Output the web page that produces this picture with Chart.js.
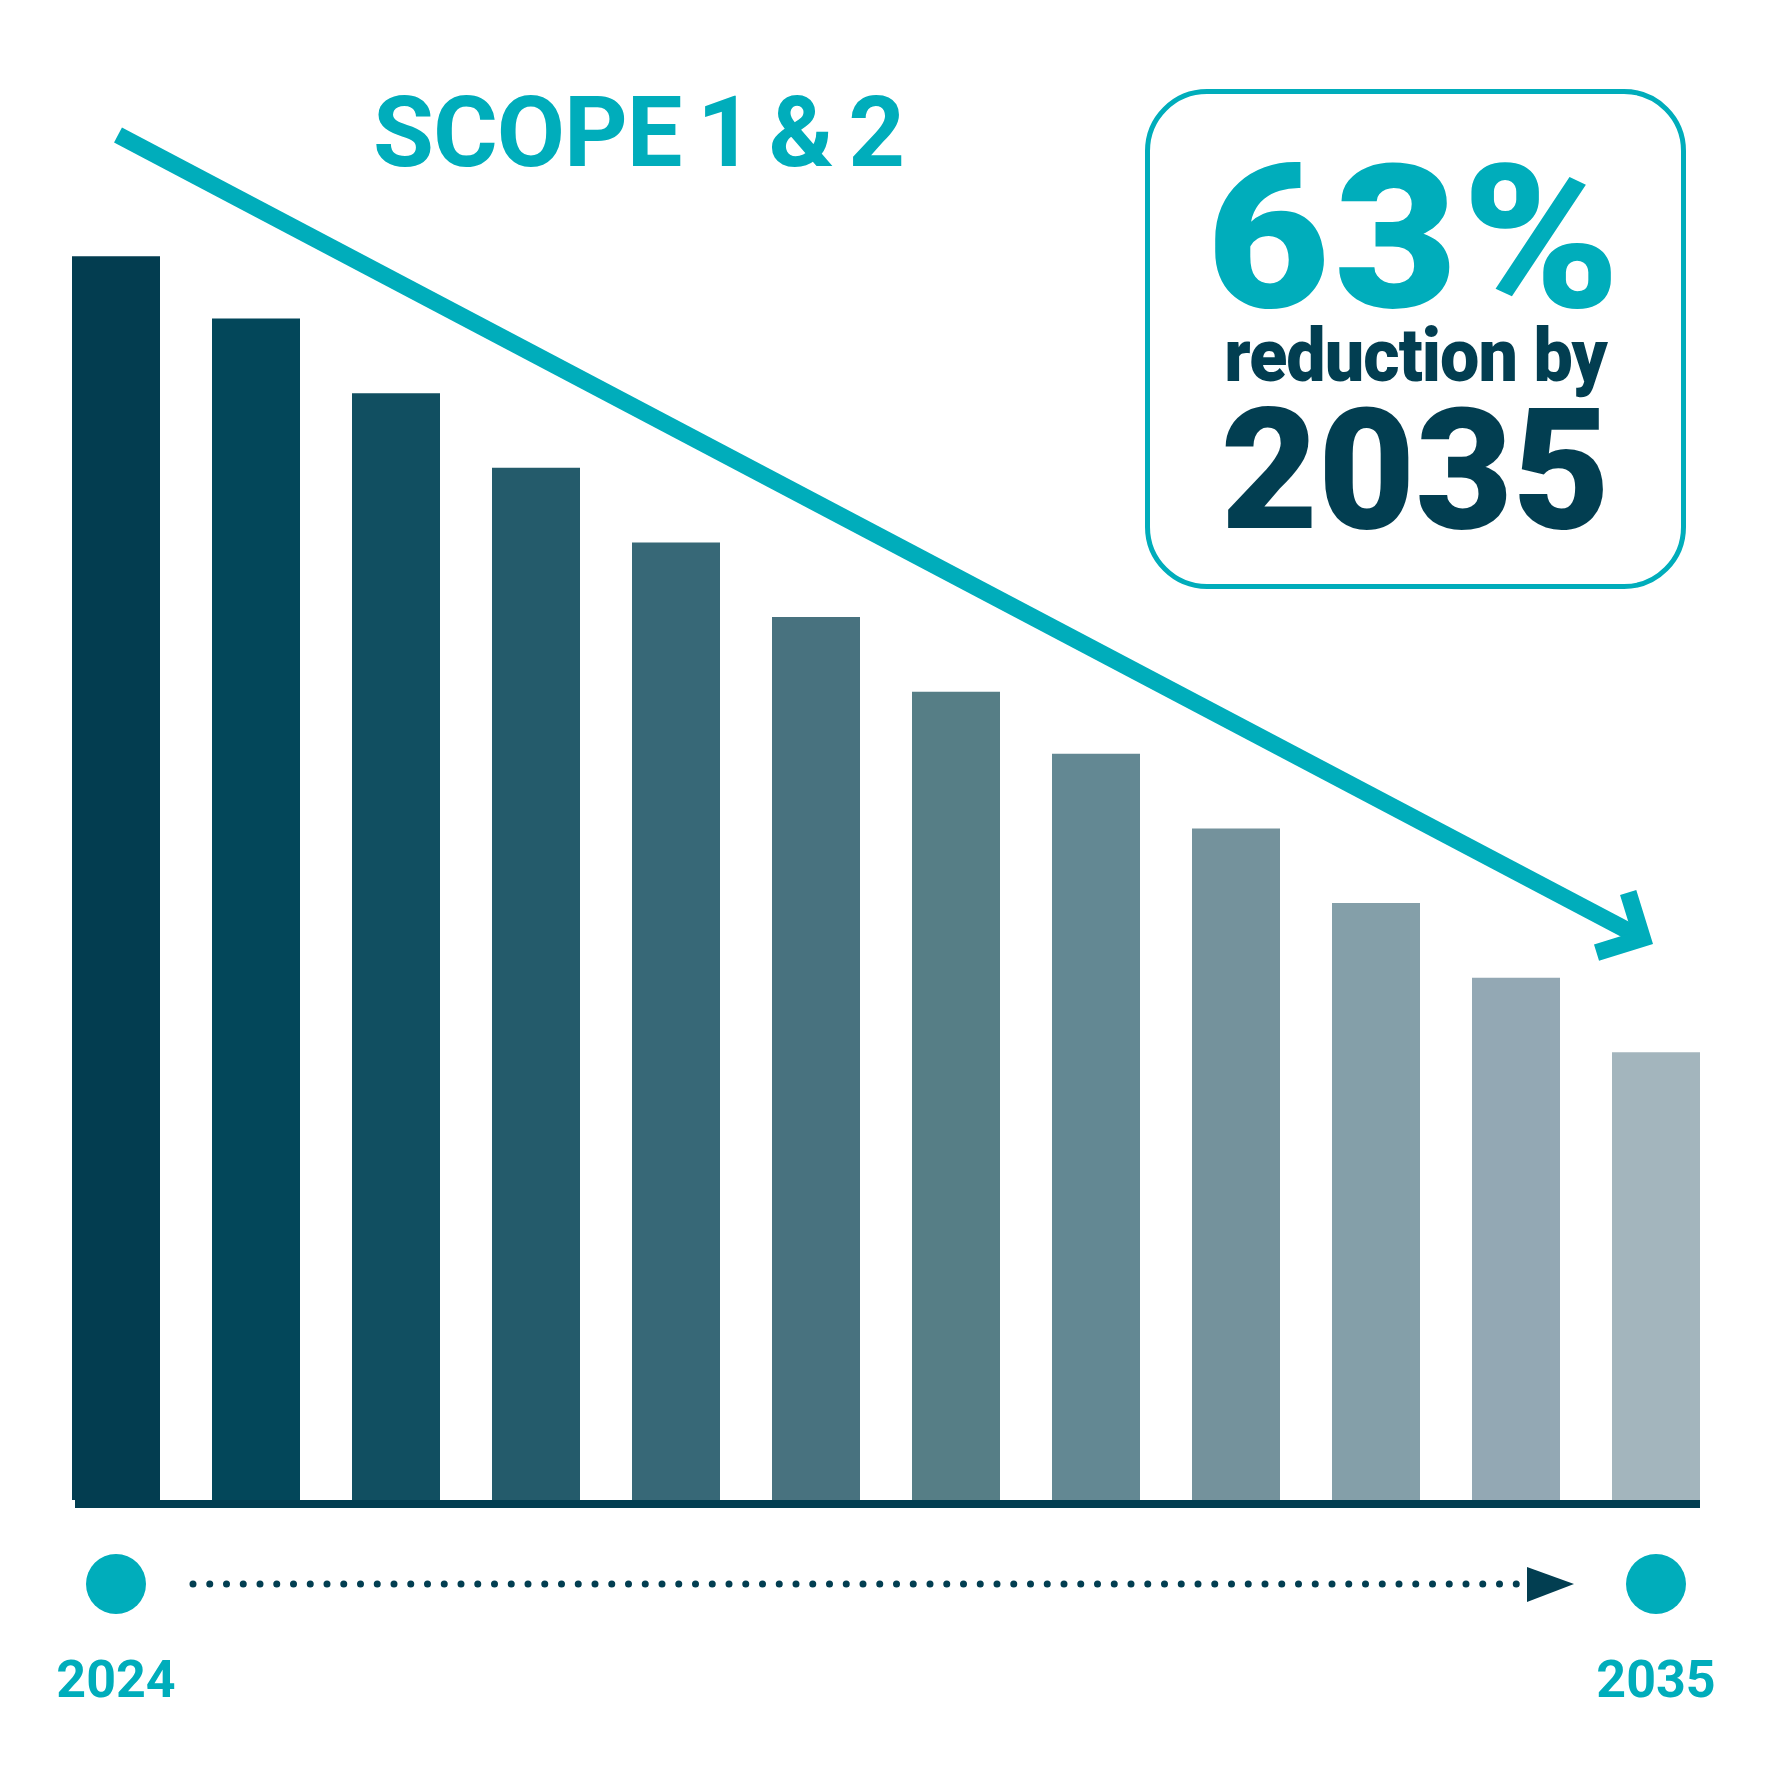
<!DOCTYPE html>
<html>
<head>
<meta charset="utf-8">
<title>Scope 1 & 2</title>
<script src="https://cdn.jsdelivr.net/npm/chart.js@4.4.1/dist/chart.umd.min.js"></script>
<style>
    body { margin: 0; background: #fff; }
    #wrap { position: relative; width: 1772px; height: 1772px; }
    #chart { position: absolute; left: 0; top: 0; }
    .txt { position: absolute; font-family: Roboto, sans-serif; line-height: 1; white-space: nowrap; }
    #title { left: 356px; top: 83px; width: 565px; text-align: center; font-size: 99px; font-weight: 700; color: #00adbb;
             letter-spacing: -1px; word-spacing: -8px; }
    #box { position: absolute; left: 1145px; top: 89px; width: 541px; height: 500px; box-sizing: border-box;
           border: 5px solid #00adbb; border-radius: 62px; }
    .boxline { left: 1145px; width: 541px; text-align: center; }
    #pct { top: 138px; font-size: 201px; font-weight: 900; color: #00adbb; letter-spacing: 4px; transform: scaleX(1.06); }
    #by { top: 319px; font-size: 74px; font-weight: 900; color: #023e51; letter-spacing: -1px; transform: scaleX(0.945); }
    #yr { top: 387px; font-size: 168px; font-weight: 900; color: #023e51; }
</style>
</head>
<body>
<div id="wrap">
    <canvas id="chart" width="1772" height="1772"></canvas>
    <div id="title" class="txt">SCOPE 1 &amp; 2</div>
    <div id="box"></div>
    <div id="pct" class="txt boxline">63%</div>
    <div id="by" class="txt boxline">reduction by</div>
    <div id="yr" class="txt boxline">2035</div>
</div>
<script>
// chart data
const years = ['2024', '2025', '2026', '2027', '2028', '2029', '2030', '2031', '2032', '2033', '2034', '2035'];
const emissions = [100, 95, 89, 83, 77, 71, 65, 60, 54, 48, 42, 36];
const barColors = ['#033d50', '#03475a', '#114f61', '#245b6b', '#376877', '#48727f',
                   '#567e86', '#638893', '#74929c', '#849fa9', '#93a8b4', '#a3b5bd'];

const teal = '#00adbb';
const navy = '#023e51';

// baseline, trend arrow and the timeline underneath
const decor = {
    id: 'decor',
    afterDatasetsDraw(chart) {
        const ctx = chart.ctx;
        const bars = chart.getDatasetMeta(0).data;
        const bottom = chart.chartArea.bottom;
        const first = bars[0], last = bars[bars.length - 1];

        ctx.save();
        // baseline
        ctx.fillStyle = navy;
        const bl = first.x - first.width / 2 + 3, br = last.x + last.width / 2;
        ctx.fillRect(bl, bottom, br - bl, 8);

        // downward trend arrow
        const sx = 118, sy = 135, tx = 1653, ty = 944;
        const len = Math.hypot(tx - sx, ty - sy);
        const dx = (tx - sx) / len, dy = (ty - sy) / len;
        const lw = 17;
        const cx = tx - dx * lw / 2 * Math.SQRT2, cy = ty - dy * lw / 2 * Math.SQRT2;
        ctx.strokeStyle = teal;
        ctx.lineWidth = lw;
        ctx.lineCap = 'butt';
        ctx.lineJoin = 'miter';
        ctx.beginPath();
        ctx.moveTo(sx, sy);
        ctx.lineTo(cx - dx * 4, cy - dy * 4);
        ctx.stroke();
        const armLen = 48;
        const rot = (a) => {
            const bx = -dx, by = -dy;
            return [bx * Math.cos(a) - by * Math.sin(a), bx * Math.sin(a) + by * Math.cos(a)];
        };
        const a1 = rot(Math.PI / 4), a2 = rot(-Math.PI / 4);
        ctx.beginPath();
        ctx.moveTo(cx + a1[0] * armLen, cy + a1[1] * armLen);
        ctx.lineTo(cx, cy);
        ctx.lineTo(cx + a2[0] * armLen, cy + a2[1] * armLen);
        ctx.stroke();

        // timeline
        const x = chart.scales.x;
        const x0 = x.getPixelForTick(0), x1 = x.getPixelForTick(years.length - 1);
        const ly = 1584;
        ctx.fillStyle = teal;
        [x0, x1].forEach(px => {
            ctx.beginPath();
            ctx.arc(px, ly, 30, 0, Math.PI * 2);
            ctx.fill();
        });
        ctx.strokeStyle = navy;
        ctx.lineWidth = 7;
        ctx.lineCap = 'round';
        ctx.setLineDash([0, 16.75]);
        ctx.beginPath();
        ctx.moveTo(x0 + 77, ly);
        ctx.lineTo(x1 - 138, ly);
        ctx.stroke();
        ctx.setLineDash([]);
        ctx.fillStyle = navy;
        ctx.beginPath();
        ctx.moveTo(x1 - 129, ly - 17);
        ctx.lineTo(x1 - 82, ly);
        ctx.lineTo(x1 - 129, ly + 18);
        ctx.closePath();
        ctx.fill();
        ctx.restore();
    }
};

new Chart(document.getElementById('chart').getContext('2d'), {
    type: 'bar',
    data: {
        labels: years,
        datasets: [{
            data: emissions,
            backgroundColor: barColors,
            borderWidth: 0,
            barPercentage: 88 / 140,
            categoryPercentage: 1
        }]
    },
    options: {
        responsive: false,
        animation: false,
        layout: { padding: { left: 46, right: 46, top: 132, bottom: 0 } },
        plugins: { legend: { display: false }, tooltip: { enabled: false } },
        scales: {
            x: {
                grid: { display: false, drawTicks: false },
                border: { display: false },
                ticks: {
                    autoSkip: false,
                    maxRotation: 0,
                    padding: 153,
                    color: teal,
                    font: { family: 'Roboto', size: 52, weight: 'bold' },
                    callback: (value, index) => (index === 0 || index === years.length - 1) ? years[index] : ''
                },
                afterFit: (scale) => {
                    scale.height = 272;
                    scale.paddingLeft = 0;
                    scale.paddingRight = 0;
                }
            },
            y: { display: false, min: 0, max: 110 }
        }
    },
    plugins: [decor]
});
</script>
</body>
</html>
